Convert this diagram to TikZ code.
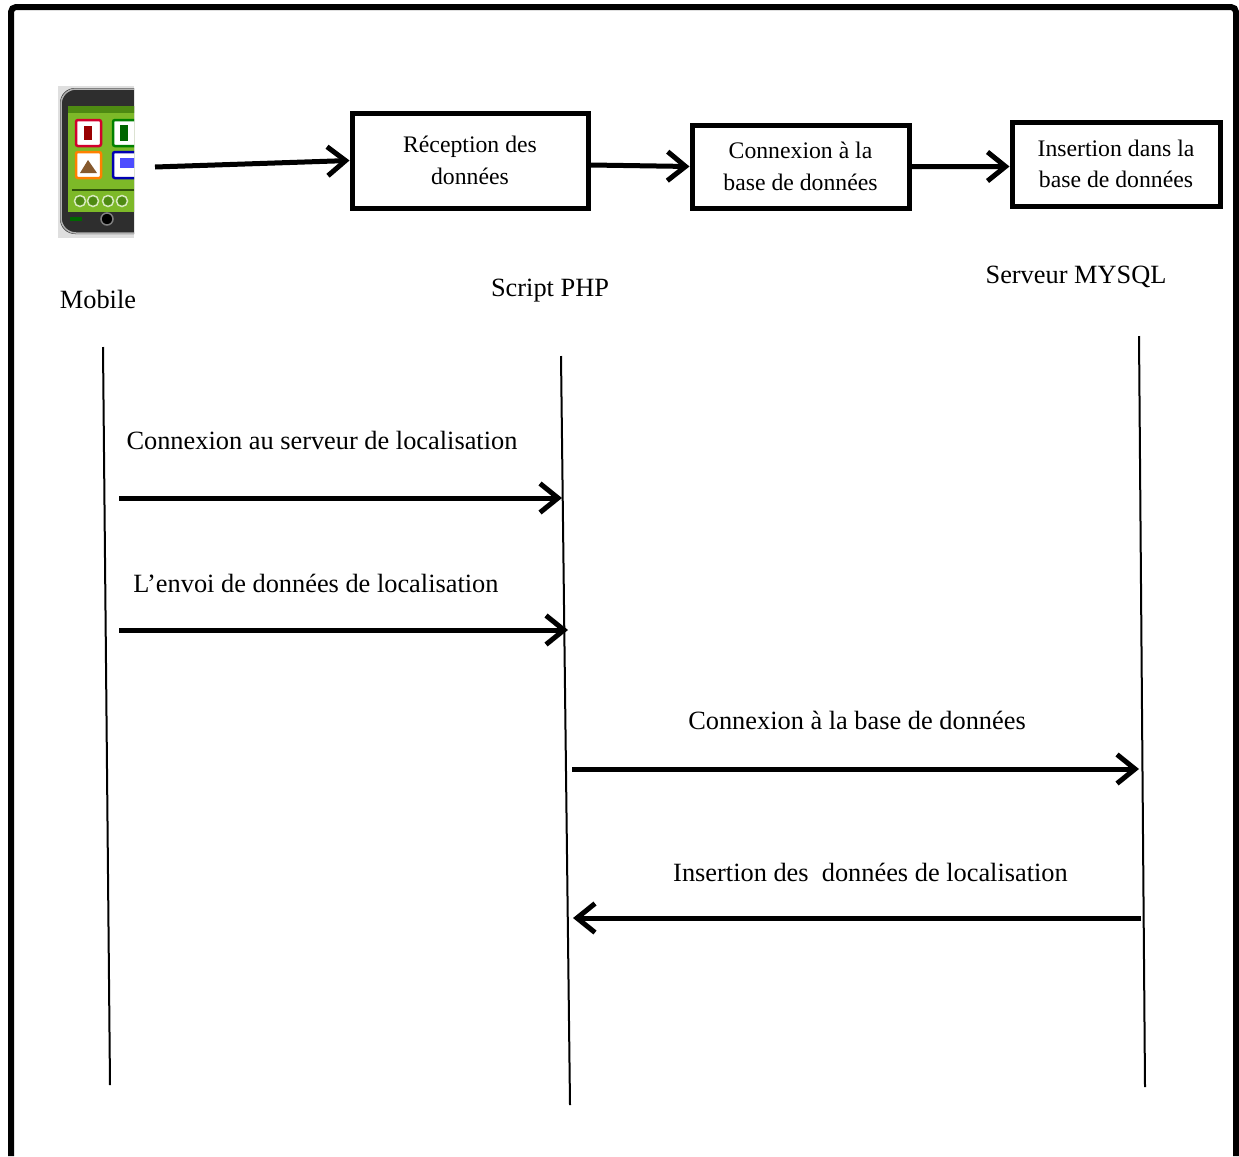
\documentclass[tikz,border=0pt]{standalone}
\usepackage{fontspec}
\setmainfont{Liberation Serif}
\usetikzlibrary{arrows.meta}

\definecolor{ecran}{HTML}{7DB928}
\definecolor{ecranfonce}{HTML}{4E8A12}
\definecolor{boitier}{HTML}{2E2E2E}

\tikzset{
  etape/.style={draw, line width=1mm, align=center, inner sep=0pt,
    font=\fontsize{13.5}{18}\selectfont},
  lbl/.style={font=\fontsize{15}{18}\selectfont},
  msg/.style={line width=1mm, -{Straight Barb[length=3.6mm,width=5.8mm]}},
  vie/.style={line width=0.4mm},
  icone/.style={fill=white, line width=0.5mm, rounded corners=0.4mm},
}

\begin{document}
\begin{tikzpicture}[x=0.2mm, y=-0.2mm]
   \fill[white] (0,0) rectangle (1239,1156);
   \useasboundingbox (0,0) rectangle (1239,1156);

   % cadre
   \draw[line width=1.2mm, rounded corners=1mm] (11,1156) -- (11,7) -- (1236,7) -- (1236,1156);

   % le mobile
   \begin{scope}
   \clip (58,86) rectangle (134,238);
   \fill[gray!25] (58,86) rectangle (134,238);
   \fill[boitier, rounded corners=3mm] (60,88) rectangle (180,234);
   \draw[gray!60, line width=0.3mm, rounded corners=3mm] (61,89) rectangle (179,233);
   \fill[ecran] (68,106) rectangle (180,212);
   \fill[ecranfonce] (68,106) rectangle (180,113);
   \draw[icone, draw=purple!70!red] (76,120) rectangle (101,146);
   \draw[icone, draw=green!50!black] (113,120) rectangle (138,146);
   \draw[icone, draw=orange] (76,152) rectangle (101,178);
   \draw[icone, draw=blue!70!black] (113,152) rectangle (138,178);
   \fill[brown!70!black] (80,173) -- (88,160) -- (97,173) -- cycle;
   \fill[red!60!black] (84,126) rectangle (92,140);
   \fill[green!40!black] (120,125) rectangle (128,141);
   \fill[blue!70] (120,158) rectangle (136,168);
   \draw[ecranfonce!60!black, line width=0.3mm] (72,190) -- (134,190);
   \foreach \bx in {80,93,108,122}
      \draw[fill=ecranfonce, draw=white!70!ecran, line width=0.3mm] (\bx,201) circle (1.1mm);
   \draw[fill=black, draw=gray, line width=0.3mm] (107,219) circle (1.2mm);
   \fill[green!40!black] (70,217) rectangle (82,221);
   \end{scope}
   \coordinate (mobile) at (155,167);

   % les etapes
   \node[etape, minimum width=47.2mm, minimum height=19mm] (reception) at (470,160.5) {R\'eception des\\donn\'ees};
   \node[etape, minimum width=43.4mm, minimum height=16.6mm] (connexion) at (800.5,166.5) {Connexion \`a la\\base de donn\'ees};
   \node[etape, minimum width=41.6mm, minimum height=16.8mm] (insertion) at (1116,164) {Insertion dans la\\base de donn\'ees};
   \draw[msg] (mobile) -- (reception.west);
   \draw[msg] ([yshift=-0.9mm]reception.east) -- (connexion.west);
   \draw[msg] (connexion.east) -- ([yshift=-0.5mm]insertion.west);

   % acteurs
   \node[lbl] (mob) at (98,299) {Mobile};
   \node[lbl] (php) at (550,291) {Script PHP};
   \node[lbl] (sql) at (1076,277) {Serveur MYSQL};

   % lignes de vie
   \coordinate (mobHaut) at (103,347);
   \coordinate (mobBas) at (110,1085);
   \coordinate (phpHaut) at (561,356);
   \coordinate (phpBas) at (570,1105);
   \coordinate (sqlHaut) at (1139,336);
   \coordinate (sqlBas) at (1145,1087);
   \draw[vie] (mobHaut) -- (mobBas);
   \draw[vie] (phpHaut) -- (phpBas);
   \draw[vie] (sqlHaut) -- (sqlBas);

   % messages
   \node[lbl] (m1) at (322,440) {Connexion au serveur de localisation};
   \coordinate (m1a) at (119,498);
   \coordinate (m1b) at (562,498);
   \draw[msg] (m1a) -- (m1b);

   \node[lbl] (m2) at (316,583) {L’envoi de donn\'ees de localisation};
   \coordinate (m2a) at (119,630);
   \coordinate (m2b) at (568,630);
   \draw[msg] (m2a) -- (m2b);

   \node[lbl] (m3) at (857,720) {Connexion \`a la base de donn\'ees};
   \coordinate (m3a) at (572,769);
   \coordinate (m3b) at (1139,769);
   \draw[msg] (m3a) -- (m3b);

   \node[lbl] (m4) at (870.5,872) {Insertion des\ \ donn\'ees de localisation};
   \coordinate (m4a) at (1141,918);
   \coordinate (m4b) at (573,918);
   \draw[msg] (m4a) -- (m4b);
\end{tikzpicture}
\end{document}
